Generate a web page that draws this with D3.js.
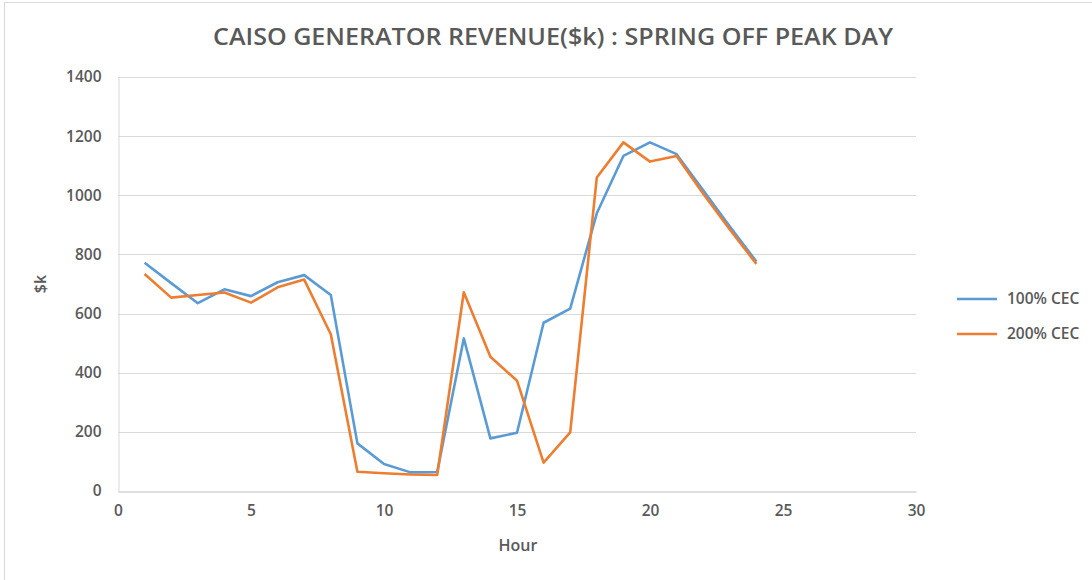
<!DOCTYPE html>
<html>
<head>
<meta charset="utf-8">
<script src="https://cdn.jsdelivr.net/npm/d3@7"></script>
<style>
  body { margin: 0; background: #fff; }
  svg text { font-family: "Open Sans", "Liberation Sans", sans-serif; fill: #595959; }
</style>
</head>
<body>
<svg width="1092" height="580"></svg>
<script>
(() => {

    var width = 1092;
    var height = 580;
    var margin = { top: 77, bottom: 89, left: 118, right: 176 };

    // hours 1..24
    var hours = d3.range(1, 25);
    var cec100 = [772, 703, 635, 682, 659, 706, 730, 663, 161, 91, 63, 64,
                  516, 178, 197, 569, 617, 939, 1133, 1179, 1139, 1017, 894, 776];
    var cec200 = [734, 654, 663, 671, 637, 689, 715, 530, 65, 60, 56, 54,
                  672, 454, 373, 96, 198, 1060, 1179, 1114, 1133, 1005, 884, 768];
    var seriesNames = ["100% CEC", "200% CEC"];
    var colors = ["#5B9BD5", "#ED7D31"];
    var xTicks = [0, 5, 10, 15, 20, 25, 30];
    var yTicks = [0, 200, 400, 600, 800, 1000, 1200, 1400];

    var svg = d3.select('svg');

    // outer chart border
    svg.append('rect')
        .attr('x', 4.5).attr('y', 2.5)
        .attr('width', width + 10).attr('height', height + 10)
        .attr('fill', 'none')
        .attr('stroke', '#d9d9d9');

    var x = d3.scaleLinear().domain([0, 30]).range([margin.left, width - margin.right]);
    var y = d3.scaleLinear().domain([0, 1400]).range([height - margin.bottom, margin.top]);

    // gridlines
    svg.append('g')
        .selectAll('line')
        .data(yTicks.filter(d => d > 0))
        .enter().append('line')
        .attr('x1', x(0)).attr('x2', x(30))
        .attr('y1', d => Math.round(y(d)) + 0.5)
        .attr('y2', d => Math.round(y(d)) + 0.5)
        .attr('stroke', '#d9d9d9');

    // y axis
    var yAxis = svg.append('g')
        .attr('transform', 'translate(' + [Math.round(x(0)) + 0.5, 0] + ')')
        .call(d3.axisLeft(y).tickValues(yTicks).tickFormat(d3.format('d')).tickSize(0).tickPadding(17));
    yAxis.select('.domain').attr('stroke', '#d9d9d9');
    yAxis.selectAll('text')
        .style('font-size', '15.5px').style('font-weight', '600');

    // x axis
    var xAxis = svg.append('g')
        .attr('transform', 'translate(' + [0, Math.round(y(0)) + 0.5] + ')')
        .call(d3.axisBottom(x).tickValues(xTicks).tickSize(0).tickPadding(13));
    xAxis.select('.domain').attr('stroke', '#bfbfbf');
    xAxis.selectAll('text')
        .style('font-size', '15.5px').style('font-weight', '600');

    // lines
    var line = d3.line()
        .x((d, i) => x(hours[i]))
        .y(d => y(d));

    [cec100, cec200].forEach((s, k) => {
        svg.append('path')
            .datum(s)
            .attr('d', line)
            .attr('fill', 'none')
            .attr('stroke', colors[k])
            .attr('stroke-width', 2.6)
            .attr('stroke-linejoin', 'round');
    });

    // title
    svg.append('text')
        .attr('x', 553).attr('y', 45)
        .attr('text-anchor', 'middle')
        .attr('textLength', 680)
        .attr('lengthAdjust', 'spacingAndGlyphs')
        .style('font-size', '24px').style('font-weight', '600')
        .text('CAISO GENERATOR REVENUE($k) : SPRING OFF PEAK DAY');

    // axis titles
    svg.append('text')
        .attr('x', 518).attr('y', 551)
        .attr('text-anchor', 'middle')
        .style('font-size', '16px').style('font-weight', '600')
        .text('Hour');

    svg.append('text')
        .attr('transform', 'translate(46,284) rotate(-90)')
        .attr('text-anchor', 'middle')
        .style('font-size', '16px').style('font-weight', '600')
        .text('$k');

    // legend
    var legend = svg.append('g');
    seriesNames.forEach((name, k) => {
        var ly = 299 + k * 35;
        legend.append('line')
            .attr('x1', 957).attr('x2', 997)
            .attr('y1', ly).attr('y2', ly)
            .attr('stroke', colors[k])
            .attr('stroke-width', 2.6);
        legend.append('text')
            .attr('x', 1007).attr('y', ly + 5)
            .style('font-size', '15.5px').style('font-weight', '600')
            .text(name);
    });

})();
</script>
</body>
</html>
